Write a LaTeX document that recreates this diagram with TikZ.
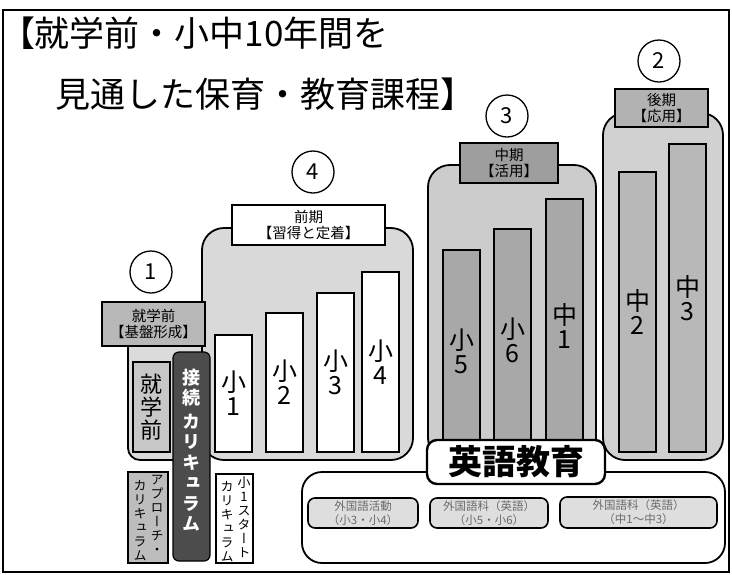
\documentclass[tikz,border=0pt]{standalone}
\usepackage{fontspec}
\newfontfamily\jp{Noto Sans CJK JP}
\newfontfamily\jpv[RawFeature=+vert]{Noto Sans CJK JP}
\newcommand\myfs[2]{\fontsize{#1}{#2}\selectfont}
\definecolor{cK}{gray}{0.86}
\definecolor{cZ}{gray}{0.85}
\definecolor{cM}{gray}{0.80}
\definecolor{cL}{gray}{0.82}
\definecolor{barM}{gray}{0.66}
\definecolor{barL}{gray}{0.72}
\definecolor{hK}{gray}{0.72}
\definecolor{hM}{gray}{0.62}
\definecolor{hL}{gray}{0.70}
\definecolor{jzfill}{gray}{0.78}
\definecolor{darkbar}{gray}{0.30}
\definecolor{apfill}{gray}{0.74}
\definecolor{subfill}{gray}{0.87}
\definecolor{subtext}{gray}{0.42}
\begin{document}
\begin{tikzpicture}[x=1pt,y=-1pt,
  every node/.style={inner sep=0pt,outer sep=0pt},
  box/.style={draw,anchor=north west},
  cont/.style={box,line width=1.8pt,rounded corners=22pt},
  bar/.style={box,line width=1.5pt,minimum width=37pt,align=center,font=\jp\myfs{25}{24}},
  hdr/.style={box,line width=2.4pt,align=center,font=\jp\myfs{14.5}{16.5}},
  num/.style={circle,draw,line width=1.3pt,minimum size=42pt,font=\jp\myfs{22}{22}},
  vtext/.style={anchor=north,align=center,font=\jpv\myfs{13}{14}},
  sub/.style={box,line width=1.6pt,rounded corners=7pt,fill=subfill,align=center,font=\jp\myfs{11.5}{14},text=subtext}]
\useasboundingbox (0,0) rectangle (732,574);
\node[draw,line width=1.3pt,anchor=north west,minimum width=726pt,minimum height=562pt] (frame) at (3,10) {};

% title
\node[anchor=west,font=\jp\myfs{35}{40}] (t1) at (0,33) {【就学前・小中10年間を};
\node[anchor=west,font=\jp\myfs{35}{40}] (t2) at (56,94) {見通した保育・教育課程】};

% containers
\node[cont,rounded corners=12pt,fill=cK,minimum width=77pt,minimum height=130pt] (kcont) at (128,330) {};
\node[cont,fill=cZ,minimum width=211pt,minimum height=232pt] (zcont) at (202,228) {};
\node[cont,fill=cM,minimum width=168pt,minimum height=295pt] (mcont) at (428,165) {};
\node[cont,fill=cL,minimum width=120pt,minimum height=347pt] (lcont) at (603,113) {};
\node[cont,rounded corners=20pt,fill=white,minimum width=423pt,minimum height=91pt] (econt) at (302,472) {};

% bars
\node[bar,fill=white,minimum height=117pt] (b1) at (215,335) {小\\1};
\node[bar,fill=white,minimum height=139pt] (b2) at (266,313) {小\\2};
\node[bar,fill=white,minimum height=159pt] (b3) at (317,293) {小\\3};
\node[bar,fill=white,minimum height=180pt] (b4) at (362,272) {小\\4};
\node[bar,fill=barM,minimum height=202pt] (b5) at (443,250) {小\\5};
\node[bar,fill=barM,minimum height=223pt] (b6) at (494,229) {小\\6};
\node[bar,fill=barM,minimum height=253pt] (b7) at (546,199) {中\\1};
\node[bar,fill=barL,minimum height=280pt] (b8) at (619,172) {中\\2};
\node[bar,fill=barL,minimum height=308pt] (b9) at (669,144) {中\\3};

% header boxes
\node[hdr,fill=hK,minimum width=103pt,minimum height=44pt] (h1) at (102,302) {就学前\\【基盤形成】};
\node[hdr,fill=white,minimum width=153pt,minimum height=40pt] (h4) at (232,205) {前期\\【習得と定着】};
\node[hdr,fill=hM,minimum width=98pt,minimum height=40pt] (h3) at (460,143) {中期\\【活用】};
\node[hdr,fill=hL,minimum width=93pt,minimum height=38pt] (h2) at (615,89) {後期\\【応用】};

% circled numbers
\node[num] (n1) at (151,272) {1};
\node[num] (n4) at (313,172) {4};
\node[num] (n3) at (507,116) {3};
\node[num] (n2) at (659,61) {2};

% left column items
\node[box,line width=1.2pt,fill=jzfill,minimum width=37pt,minimum height=90pt] (jz) at (133,362) {};
\node[align=center,font=\jpv\myfs{22}{23}] (jzt) at (jz.center) {就\\学\\前};
\node[box,line width=1.2pt,rounded corners=6pt,fill=darkbar,minimum width=37pt,minimum height=209pt] (sc) at (173,352) {};
\node[align=center,text=white,font=\jpv\bfseries\myfs{18}{20.5}] (sct) at (191.5,450) {接\\続\\[3pt]カ\\リ\\キ\\ュ\\ラ\\ム};
\node[box,line width=1.2pt,fill=apfill,minimum width=40pt,minimum height=91pt] (ap) at (128,472) {};
\node[vtext] (ap1) at (157,475) {ア\\プ\\ロ\\ー\\チ\\・};
\node[vtext] (ap2) at (140,480) {カ\\リ\\キ\\ュ\\ラ\\ム};
\node[box,line width=1.2pt,fill=white,minimum width=37pt,minimum height=89pt] (st) at (216,474) {};
\node[vtext] (st1) at (244,477) {小\\1\\ス\\タ\\ー\\ト};
\node[vtext] (st2) at (227,481) {カ\\リ\\キ\\ュ\\ラ\\ム};

% English education
\node[box,line width=2.4pt,rounded corners=10pt,fill=white,minimum width=178pt,minimum height=44pt,font=\jp\bfseries\myfs{34}{34}] (eb) at (427,440) {英語教育};
\node[sub,minimum width=110pt,minimum height=30pt] (e1) at (308,498) {外国語活動\\（小3・小4）};
\node[sub,minimum width=118pt,minimum height=30pt] (e2) at (430,498) {外国語科（英語）\\（小5・小6）};
\node[sub,minimum width=157pt,minimum height=31pt] (e3) at (560,497) {外国語科（英語）\\（中1～中3）};
\end{tikzpicture}
\end{document}
